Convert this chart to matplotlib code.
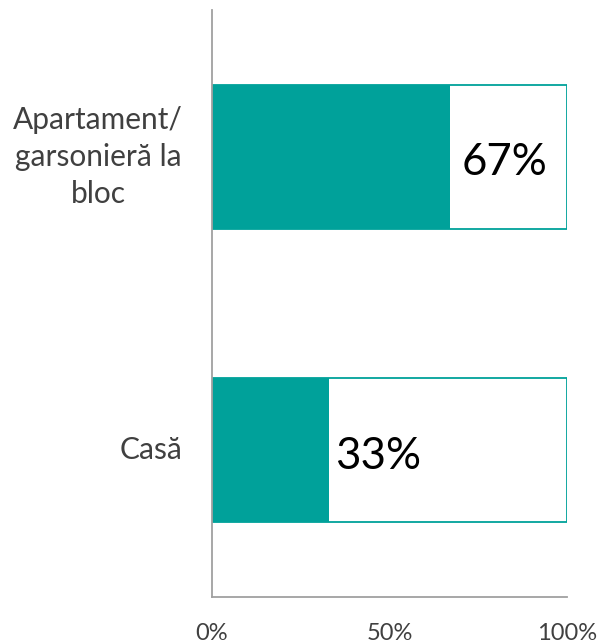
import numpy as np
import matplotlib.pyplot as plt

# locuinta: share of respondents by type of dwelling
categories = ['Apartament/\ngarsonieră la\nbloc', 'Casă']
shares = [0.67, 0.33]
x_ticks = [0, 0.5, 1.0]
x_tick_labels = ['0%', '50%', '100%']

teal = '#00A19A'
axis_grey = '#a0a0a0'
plt.rcParams['font.family'] = ['Lato', 'DejaVu Sans']

fig = plt.figure(figsize=(5.99, 6.44), dpi=100)
ax = fig.add_axes([212/599, 47/644, 355/599, 587/644])

ypos = np.arange(len(categories))
# full 100% outline bar, then the filled share on top
ax.barh(ypos, [1.0]*len(categories), height=0.49, color='white',
        edgecolor=teal, linewidth=1.3)
ax.barh(ypos, shares, height=0.49, color=teal, linewidth=0)

offsets = [0.033, 0.017]
for y, v, off in zip(ypos, shares, offsets):
    ax.text(v + off, y + 0.02, '%d%%' % round(v*100), fontsize=31.5,
            ha='left', va='center', color='black')

ax.set_xlim(0, 1.0)
ax.set_ylim(1.5, -0.5)
ax.set_yticks(ypos)
ax.set_yticklabels([])
# category labels drawn by hand so the multi-line one stays centred
for y, cat in zip(ypos, categories):
    ax.annotate(cat, xy=(0, y), xycoords=('axes fraction', 'data'),
                xytext=(-21, 0), textcoords='offset points',
                ha='right', va='center', multialignment='center',
                fontsize=21.5, color='#404040', linespacing=1.4)
ax.set_xticks(x_ticks)
ax.set_xticklabels(x_tick_labels, fontsize=17, color='#404040')
ax.tick_params(axis='both', length=0)
ax.tick_params(axis='x', pad=19)

for side in ['top', 'right']:
    ax.spines[side].set_visible(False)
for side in ['left', 'bottom']:
    ax.spines[side].set_color(axis_grey)
    ax.spines[side].set_linewidth(1.3)

plt.savefig('out.png', dpi=100)
